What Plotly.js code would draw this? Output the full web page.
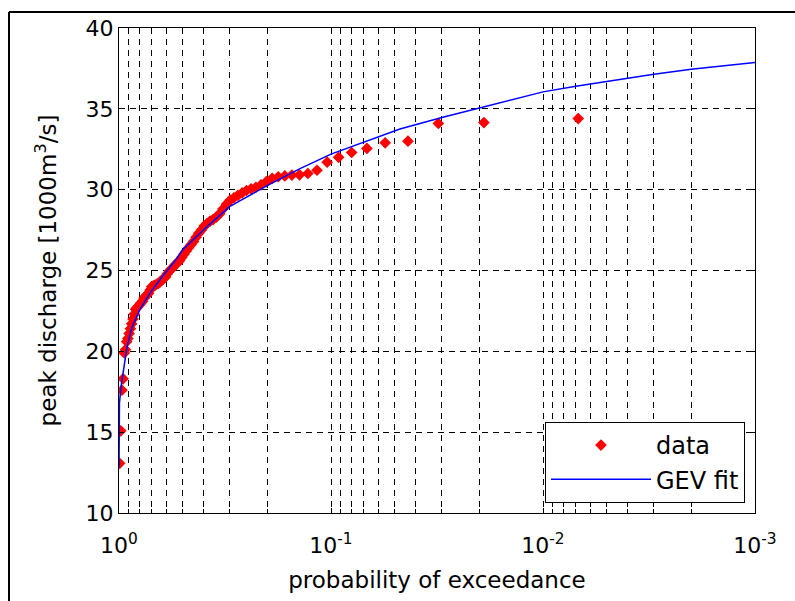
<!DOCTYPE html>
<html>
<head>
<meta charset="utf-8">
<script src="https://cdn.plot.ly/plotly-3.0.1.min.js"></script>
<style>html,body{margin:0;padding:0;background:#fff;}#chart{width:795px;height:601px;}</style>
</head>
<body>
<div id="chart"></div>
<script>
// Empirical points: probability of exceedance and peak discharge [1000 m3/s]
const dataP = [0.00682,0.01900,0.03117,0.04335,0.05553,0.06771,0.07988,0.09206,0.10424,0.11641,
  0.12859,0.14077,0.15295,0.16512,0.17730,0.18948,0.20166,0.21383,0.22601,0.23819,
  0.25037,0.26254,0.27472,0.28690,0.29907,0.31125,0.32343,0.33561,0.34778,0.35996,
  0.37214,0.38432,0.39649,0.40867,0.42085,0.43303,0.44520,0.45738,0.46956,0.48173,
  0.49391,0.50609,0.51827,0.53044,0.54262,0.55480,0.56697,0.57915,0.59133,0.60351,
  0.61568,0.62786,0.64004,0.65222,0.66439,0.67657,0.68875,0.70093,0.71310,0.72528,
  0.73746,0.74963,0.76181,0.77399,0.78617,0.79834,0.81052,0.82270,0.83488,0.84705,
  0.85923,0.87141,0.88359,0.89576,0.90794,0.92012,0.93230,0.94447,0.95665,0.96883,
  0.98100,0.99318];
const dataQ = [34.4,34.15,34.1,33.0,32.9,32.55,32.3,32.0,31.7,31.2,
  31.0,30.92,30.9,30.85,30.8,30.7,30.5,30.3,30.15,30.05,
  29.95,29.8,29.65,29.5,29.35,29.1,28.8,28.5,28.3,28.15,
  28.05,27.9,27.75,27.5,27.3,27.05,26.8,26.6,26.4,26.2,
  26.0,25.8,25.6,25.5,25.35,25.2,25.1,24.95,24.8,24.6,
  24.5,24.4,24.3,24.2,24.15,24.1,24.05,24.0,23.8,23.6,
  23.5,23.4,23.3,23.1,23.0,22.9,22.8,22.7,22.6,22.3,
  22.0,21.7,21.4,21.1,20.8,20.6,20.1,19.9,18.3,17.6,
  15.08,13.07];
// GEV fit curve
const fitP = [0.99995,0.9995,0.998,0.995,0.9785,0.950,0.917,0.868,0.796,0.714,0.627,0.544,0.5,0.393,0.301,0.2,0.14,0.1,0.0473,0.03,0.02,0.01,0.007,0.004,0.003,0.002,0.001];
const fitQ = [12.8,14.5,15.8,16.8,17.8,19.03,20.26,21.5,22.6,23.6,24.6,25.6,26.3,27.6,28.95,30.25,31.3,32.2,33.75,34.46,35.04,36.05,36.4,36.89,37.14,37.45,37.87];
// axis ticks
const xTickVals = [1,0.1,0.01,0.001];
const xTickText = ['10<sup>0</sup>','10<sup>-1</sup>','10<sup>-2</sup>','10<sup>-3</sup>'];
const xMinorVals = [0.9,0.8,0.7,0.6,0.5,0.4,0.3,0.2,0.09,0.08,0.07,0.06,0.05,0.04,0.03,0.02,0.009,0.008,0.007,0.006,0.005,0.004,0.003,0.002];
const yTickVals = [10,15,20,25,30,35,40];
const legendNames = ['data','GEV fit'];

const FONT = 'DejaVu Sans, sans-serif';
const traces = [
  {x: dataP, y: dataQ, type:'scatter', mode:'markers', name: legendNames[0],
   marker:{symbol:'diamond', size:9, color:'#ff0000', line:{width:0}}},
  {x: fitP, y: fitQ, type:'scatter', mode:'lines', name: legendNames[1],
   line:{color:'#0000ff', width:1.5}}
];
const W = 636, H = 485, L = 119, T = 28;
const px = v => (v - L) / W;
const py = v => (T + H - v) / H;
const layout = {
  width:795, height:601,
  margin:{l:119, r:40, t:28, b:88},
  paper_bgcolor:'#fff', plot_bgcolor:'#fff',
  font:{family:FONT, size:22, color:'#000'},
  xaxis:{type:'log', range:[0,-3], autorange:false,
    tickvals:xTickVals, ticktext:xTickText, ticks:'inside', ticklen:5, tickcolor:'#000',
    ticklabelstandoff:13,
    showline:true, linecolor:'#000', linewidth:1, mirror:'ticks',
    showgrid:true, gridcolor:'#000', gridwidth:1, griddash:'6px,5px', zeroline:false,
    minor:{tickvals:xMinorVals, ticks:'inside', ticklen:4, tickcolor:'#000',
      showgrid:true, gridcolor:'#000', gridwidth:1, griddash:'6px,5px'},
    tickfont:{family:FONT, size:22, color:'#000'},
    title:{text:'probability of exceedance', font:{family:FONT, size:23, color:'#000'}, standoff:14}},
  yaxis:{range:[10,40], autorange:false, tickvals:yTickVals,
    ticks:'inside', ticklen:5, tickcolor:'#000',
    showline:true, linecolor:'#000', linewidth:1, mirror:'ticks',
    showgrid:true, gridcolor:'#000', gridwidth:1, griddash:'6px,5px', zeroline:false,
    tickfont:{family:FONT, size:22, color:'#000'},
    title:{text:'peak discharge [1000m<sup>3</sup>/s]', font:{family:FONT, size:23, color:'#000'}, standoff:22}},
  legend:{x:px(745), xanchor:'right', y:py(503), yanchor:'bottom',
    bgcolor:'#fff', bordercolor:'#000', borderwidth:1, itemwidth:100,
    font:{family:FONT, size:24, color:'#000'}, tracegroupgap:0},
  shapes:[
    {type:'line', xref:'paper', yref:'paper', x0:px(9), x1:px(800), y0:py(12), y1:py(12), line:{color:'#000', width:2}},
    {type:'line', xref:'paper', yref:'paper', x0:px(9), x1:px(9), y0:py(12), y1:py(605), line:{color:'#000', width:2}}
  ]
};
Plotly.newPlot('chart', traces, layout, {displayModeBar:false, staticPlot:true});
</script>
</body>
</html>
